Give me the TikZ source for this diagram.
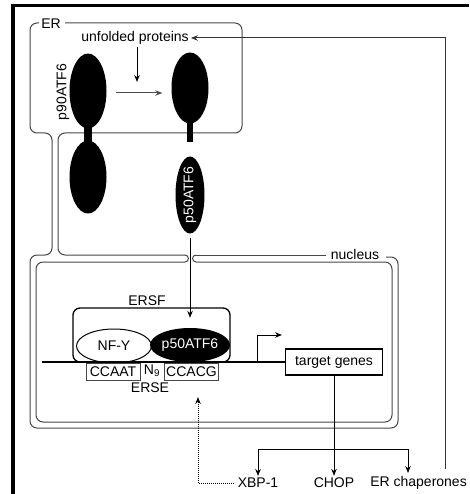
\documentclass[tikz,border=0pt]{standalone}
\usepackage{fontspec}
\setmainfont{Liberation Sans}
\usetikzlibrary{arrows.meta,shapes.geometric}
\definecolor{memgray}{RGB}{70,70,70}

\begin{document}
\begin{tikzpicture}[x=1pt,y=-1pt,font=\fontsize{14}{16}\selectfont,
mem/.style={draw=memgray,line width=1pt,rounded corners=7pt},
pore/.style={draw=memgray,line width=1pt},
prot/.style={ellipse,fill=black,inner sep=0pt},
arr/.style={-{Stealth[length=7pt,width=5.5pt]},line width=1pt},
lbl/.style={inner sep=2pt},
elem/.style={draw=memgray,line width=.6pt,inner sep=1pt,minimum height=17pt,anchor=north}]

\useasboundingbox(0,0)rectangle(469,494);
\draw[line width=3.5pt](13,494)|-(469,5.5);

\node[lbl](er)at(51,24){ER};
\draw[mem](39,23)--(30,23)--(30,133)--(52,133)--(52,255)--(30,255)--(30,428)--(398,428)--(398,257)--(386,257);
\draw[mem](65,23)--(242,23)--(242,133)--(58,133)--(58,255)--(185,255);
\draw[pore](185,255)..controls(189.5,255)and(189.5,262)..(185,262);
\draw[mem](185,262)--(36,262)--(36,422)--(392,422)--(392,262)--(196,262);
\draw[pore](196,262)..controls(191.5,262)and(191.5,255)..(196,255);
\draw[mem](196,255)--(326,255);
\node[lbl](nuc)at(355,254){nucleus};

\node[lbl](unf)at(135,38){unfolded proteins};
\coordinate(unfin)at(137,82);
\draw[arr](unf.south-|unfin)--(unfin);
\coordinate(fb)at(445,469);
\draw[arr,black!80](fb)|-(unf.east);

\node[prot,minimum width=37,minimum height=75](p90a)at(88,91){};
\fill(84,124)rectangle(92,144);
\node[prot,minimum width=37,minimum height=73](p90b)at(88,177){};
\node[lbl,rotate=90](p90)at(63,92){p90ATF6};
\node[prot,minimum width=37,minimum height=71](p90c)at(190,88){};
\fill(187,118)rectangle(193,142);
\node[prot,minimum width=29,minimum height=77](p50c)at(190,195){};
\node[rotate=90,text=white,inner sep=0pt](p50t)at(p50c){p50ATF6};
\draw[arr,black!70,shorten <=9pt,shorten >=9pt]([yshift=-2pt]p90a.east)--([yshift=-2pt]p90a.east-|p90c.west);

\node[draw,line width=1.3pt,rounded corners=7pt,minimum width=157,minimum height=54](ersf)at(151.5,335){};
\node[lbl](ersfl)at(147,301){ERSF};
\node[ellipse,draw,line width=1pt,fill=white,minimum width=75,minimum height=34,inner sep=0pt](nfy)at(114,346){NF-Y};
\node[prot,minimum width=76,minimum height=34,text=white](p50n)at(190,345){p50ATF6};
\draw[arr,shorten <=4pt,shorten >=10pt](p50c)--(p50n.north);

\node[draw,line width=1.3pt,minimum width=97,minimum height=26](tg)at(334,362){target genes};
\coordinate(dna)at(42,362);
\draw[line width=1.6pt](dna)--(tg.west);
\coordinate(tss)at(257,362);
\coordinate(tssend)at(282,335);
\draw[arr](tss)|-(tssend);

\node[elem,minimum width=54](ccaat)at(113,363){CCAAT};
\node[lbl,anchor=north](n9)at(152,363){N\textsubscript{9}};
\node[elem,minimum width=54](ccacg)at(191.5,363){CCACG};
\node[lbl](erse)at(150,388){ERSE};

\node[lbl](xbp)at(258,483){XBP-1};
\node[lbl](chop)at(334,483){CHOP};
\node[lbl,anchor=east,inner sep=1pt](erch)at(468,483){ER chaperones};
\coordinate(ersein)at(198,397);
\draw[arr,densely dotted,shorten <=2pt](xbp.west)-|(ersein);
\coordinate(br)at(334,449);
\coordinate(erin)at(408,473);
\draw[arr](tg.south)--(chop.north);
\draw[arr](br)-|(xbp.north);
\draw[arr](br)-|(erin);
\end{tikzpicture}
\end{document}
